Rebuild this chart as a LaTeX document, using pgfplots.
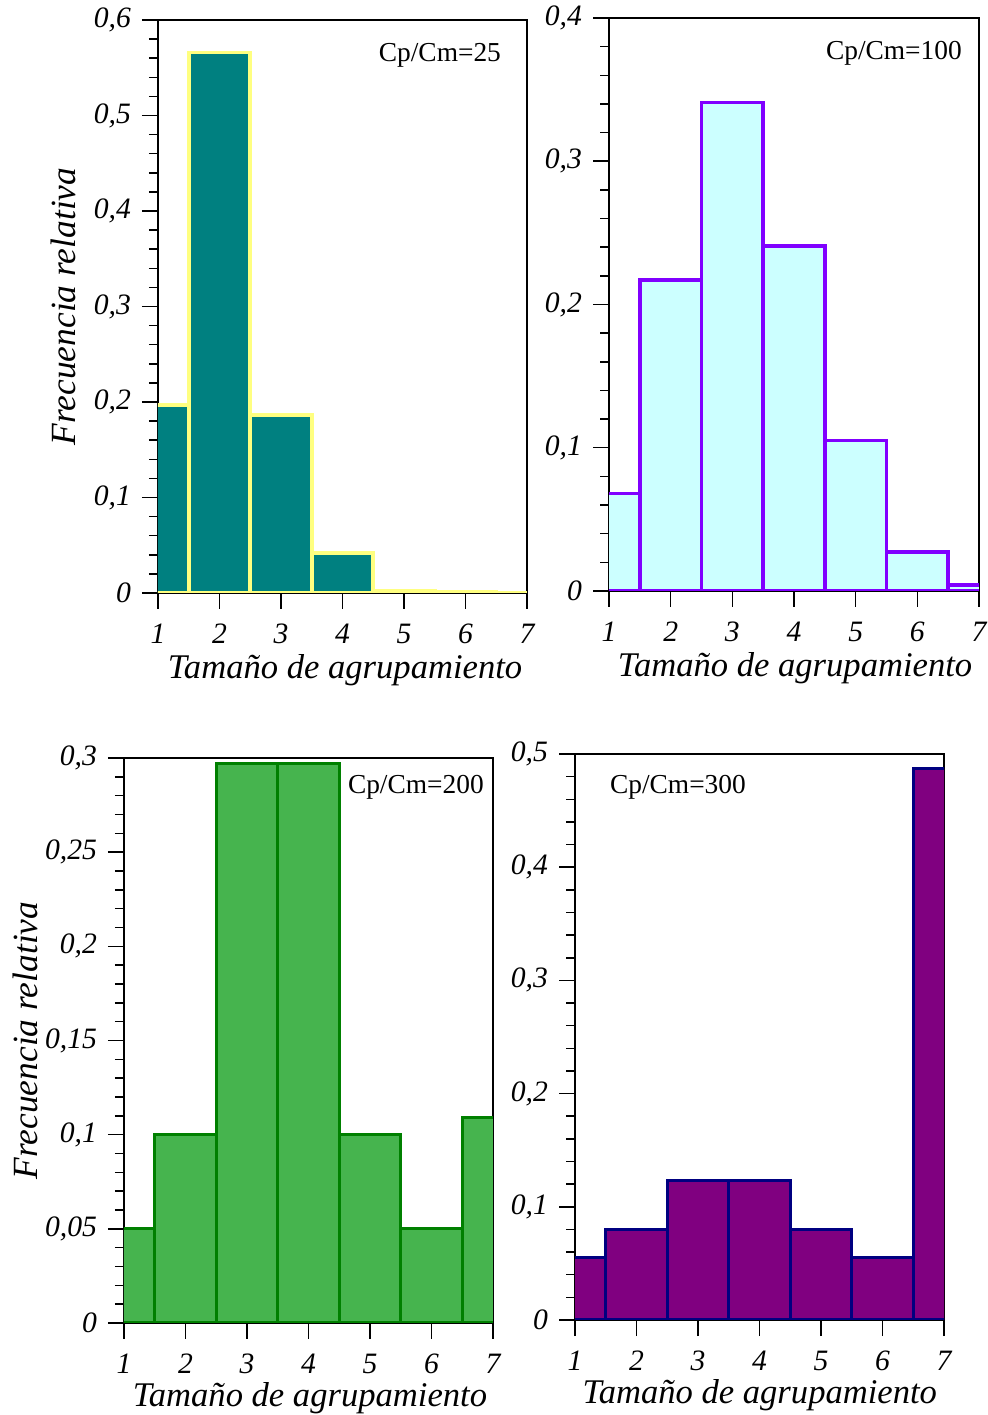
\documentclass[border=0pt]{standalone}
\usepackage{fontspec}
\setmainfont{Liberation Serif}
\usepackage{pgfplots}
\pgfplotsset{compat=1.18}

\definecolor{tealf}{RGB}{0,128,128}
\definecolor{yellowe}{RGB}{255,255,128}
\definecolor{cyanf}{RGB}{204,255,255}
\definecolor{violete}{RGB}{128,0,255}
\definecolor{greenf}{RGB}{70,180,78}
\definecolor{greene}{RGB}{0,128,0}
\definecolor{purplef}{RGB}{128,0,128}
\definecolor{navye}{RGB}{0,0,128}

\tikzset{ann/.style={font=\fontsize{13.7}{15}\selectfont, anchor=center}}
\newcommand{\xlab}{\itshape\fontsize{17.3}{19}\selectfont}
\newcommand{\ylab}{\itshape\fontsize{17.7}{19}\selectfont}
\pgfplotsset{
  hist/.style={
    scale only axis,
    xmin=1, xmax=7, ymin=0,
    xtick={1,2,3,4,5,6,7},
    axis line style={line width=0.75pt},
    every tick/.style={black, line width=0.75pt},
    tick align=outside,
    xtick pos=left, ytick pos=left,
    major tick length=8pt, minor tick length=4.5pt,
    minor y tick num=4,
    scaled y ticks=false,
    /pgf/number format/fixed,
    /pgf/number format/use comma,
    /pgf/number format/assume math mode=true,
    tick label style={font=\itshape\fontsize{14.8}{16}\selectfont},
    yticklabel style={xshift=-2pt},
    xticklabel style={yshift=-4pt},
    xlabel={Tamaño de agrupamiento},
    ybar, bar width=1,
  },
}

\begin{document}
\begin{tikzpicture}
\path[use as bounding box] (0,0) rectangle (493.5pt,707.5pt);

% Panel 1
\begin{axis}[hist, at={(79pt,411pt)}, anchor=south west,
  width=184.5pt, height=286.5pt, ymax=0.6,
  ytick={0,0.1,0.2,0.3,0.4,0.5,0.6},
  ylabel={Frecuencia relativa},
  every axis x label/.style={at={(axis description cs:0.507,-0.134)}, anchor=center, font=\xlab},
  every axis y label/.style={at={(axis description cs:-0.257,0.5)}, rotate=90, anchor=center, font=\ylab}]
\addplot[fill=tealf, draw=yellowe, line width=1.9pt] coordinates {
  (1,0.197) (2,0.566) (3,0.186) (4,0.042) (5,0.002) (6,0.001) (7,0)};
\node[ann] at (rel axis cs:0.764,0.939) {Cp/Cm=25};
\end{axis}

% Panel 2
\begin{axis}[hist, at={(304.5pt,412pt)}, anchor=south west,
  width=185pt, height=286.5pt, ymax=0.4,
  ytick={0,0.1,0.2,0.3,0.4},
  every axis x label/.style={at={(axis description cs:0.503,-0.134)}, anchor=center, font=\xlab}]
\addplot[fill=cyanf, draw=violete, line width=1.9pt] coordinates {
  (1,0.068) (2,0.217) (3,0.341) (4,0.241) (5,0.105) (6,0.027) (7,0.004)};
\node[ann] at (rel axis cs:0.770,0.939) {Cp/Cm=100};
\end{axis}

% Panel 3
\begin{axis}[hist, at={(62pt,46pt)}, anchor=south west,
  width=184.5pt, height=282.5pt, ymax=0.3,
  ytick={0,0.05,0.1,0.15,0.2,0.25,0.3},
  ylabel={Frecuencia relativa},
  every axis y label/.style={at={(axis description cs:-0.268,0.5)}, rotate=90, anchor=center, font=\ylab},
  every axis x label/.style={at={(axis description cs:0.504,-0.133)}, anchor=center, font=\xlab}]
\addplot[fill=greenf, draw=greene, line width=1.5pt] coordinates {
  (1,0.05) (2,0.1) (3,0.297) (4,0.297) (5,0.1) (6,0.05) (7,0.109)};
\node[ann] at (rel axis cs:0.791,0.949) {Cp/Cm=200};
\end{axis}

% Panel 4
\begin{axis}[hist, at={(287.5pt,47.5pt)}, anchor=south west,
  width=184.5pt, height=283pt, ymax=0.5,
  ytick={0,0.1,0.2,0.3,0.4,0.5},
  every axis x label/.style={at={(axis description cs:0.501,-0.1325)}, anchor=center, font=\xlab}]
\addplot[fill=purplef, draw=navye, line width=1.5pt] coordinates {
  (1,0.055) (2,0.08) (3,0.123) (4,0.123) (5,0.08) (6,0.055) (7,0.487)};
\node[ann] at (rel axis cs:0.279,0.942) {Cp/Cm=300};
\end{axis}
\end{tikzpicture}
\end{document}
